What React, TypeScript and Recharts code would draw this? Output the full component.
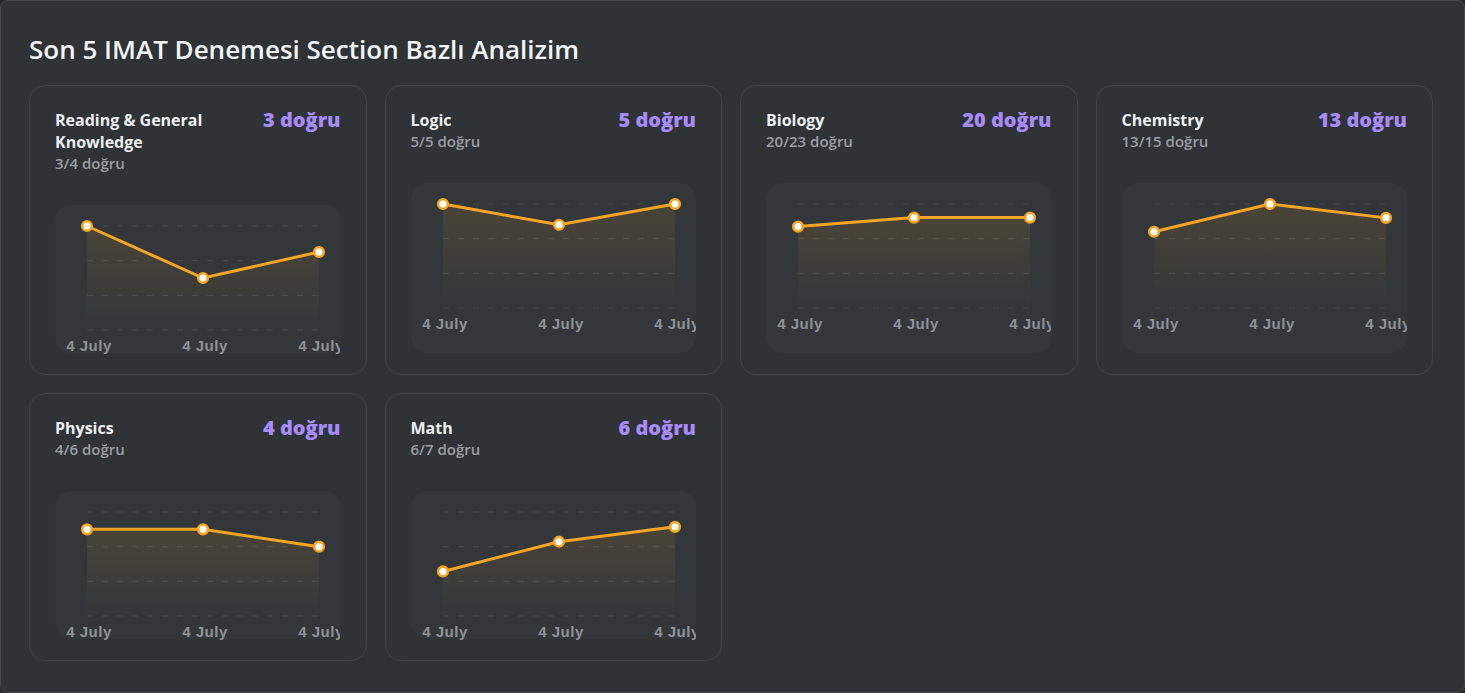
import React from 'react';
import { AreaChart, Area, XAxis, YAxis, CartesianGrid } from 'recharts';

const pageTitle = 'Son 5 IMAT Denemesi Section Bazlı Analizim';
const sectionNames = ['Reading & General Knowledge', 'Logic', 'Biology', 'Chemistry', 'Physics', 'Math'];
const sectionTotals = [4, 5, 23, 15, 6, 7];
const examDates = ['4 July', '4 July', '4 July'];
const readingScores = [4, 2, 3];
const logicScores = [5, 4, 5];
const biologyScores = [18, 20, 20];
const chemistryScores = [11, 15, 13];
const physicsScores = [5, 5, 4];
const mathScores = [3, 5, 6];
const sectionScores = [readingScores, logicScores, biologyScores, chemistryScores, physicsScores, mathScores];

const ORANGE = '#f5a524';
const UI_FONT = "'Open Sans', 'Noto Sans', sans-serif";
const TICK_FONT = "'Liberation Sans', Arial, sans-serif";

const renderDot = (p: any) => (
  <circle
    key={`dot-${p.index}`}
    cx={p.cx}
    cy={p.cy}
    r={4.8}
    fill="#ffffff"
    stroke={ORANGE}
    strokeWidth={2.6}
  />
);

const renderTick = (p: any) => (
  <text
    x={p.x}
    y={p.y}
    dx={2}
    dy="0.71em"
    textAnchor="middle"
    fill="#8f9398"
    style={{ fontFamily: TICK_FONT, fontSize: 15, fontWeight: 700, letterSpacing: 0.5 }}
  >
    {p.payload.value}
  </text>
);

function SectionCard({ index }: { index: number }) {
  const name = sectionNames[index];
  const total = sectionTotals[index];
  const scores = sectionScores[index];
  const latest = scores[scores.length - 1];
  const data = examDates.map((d, i) => ({ date: d, score: scores[i] }));
  const ticks = [0, total / 3, (2 * total) / 3, total];
  const gid = `fill-${index}`;
  return (
    <div
      style={{
        boxSizing: 'border-box',
        border: '1px solid #3f4347',
        borderRadius: 16,
        padding: '23px 25px 21px 25px',
        display: 'flex',
        flexDirection: 'column',
        background: '#2f3336',
      }}
    >
      <div style={{ display: 'flex', justifyContent: 'space-between', gap: 12 }}>
        <div style={{ flex: 1, minWidth: 0 }}>
          <div style={{ fontSize: 16, fontWeight: 700, lineHeight: '22px', color: '#eceef0' }}>{name}</div>
          <div style={{ fontSize: 15, fontWeight: 600, lineHeight: '20px', color: '#9a9ea3' }}>
            {latest}/{total} doğru
          </div>
        </div>
        <div style={{ fontSize: 20, fontWeight: 800, lineHeight: '22px', color: '#a78bfa', whiteSpace: 'nowrap' }}>
          {latest} doğru
        </div>
      </div>
      <div
        style={{
          marginTop: 32,
          flex: 1,
          background: '#33373a',
          borderRadius: 16,
          minHeight: 148,
        }}
      >
        <div style={{ height: 148, overflow: 'visible' }}>
          <AreaChart width={285} height={152} data={data} margin={{ top: 21, right: 21, left: 32, bottom: 0 }}>
            <defs>
              <linearGradient id={gid} x1="0" y1="0" x2="0" y2="1">
                <stop offset="0%" stopColor={ORANGE} stopOpacity={0.2} />
                <stop offset="100%" stopColor={ORANGE} stopOpacity={0} />
              </linearGradient>
            </defs>
            <CartesianGrid vertical={false} stroke="#474b50" strokeDasharray="6 9" />
            <XAxis
              dataKey="date"
              axisLine={false}
              tickLine={false}
              height={27}
              interval={0}
              tickMargin={4}
              tick={renderTick}
            />
            <YAxis hide domain={[0, total]} ticks={ticks} />
            <Area
              type="linear"
              dataKey="score"
              stroke={ORANGE}
              strokeWidth={3}
              fill={`url(#${gid})`}
              dot={renderDot}
              activeDot={false}
              isAnimationActive={false}
            />
          </AreaChart>
        </div>
      </div>
    </div>
  );
}

export default function App() {
  return (
    <>
      <style>{`body{margin:0;background:#26292c;}`}</style>
      <div
        style={{
          position: 'absolute',
          left: 0,
          top: 0,
          width: 1465,
          height: 693,
          boxSizing: 'border-box',
          background: '#2f3336',
          border: '1px solid #45494d',
          borderRadius: 8,
          fontFamily: UI_FONT,
          overflow: 'hidden',
        }}
      >
        <div
          style={{
            position: 'absolute',
            left: 28,
            top: 30,
            fontSize: 26,
            fontWeight: 600,
            color: '#f3f4f6',
            lineHeight: '36px',
            whiteSpace: 'nowrap',
          }}
        >
          {pageTitle}
        </div>
        <div
          style={{
            position: 'absolute',
            left: 28,
            top: 84,
            width: 1404,
            display: 'grid',
            gridTemplateColumns: 'repeat(4, 1fr)',
            columnGap: 18,
            rowGap: 18,
          }}
        >
          {sectionNames.map((_, i) => (
            <SectionCard key={i} index={i} />
          ))}
        </div>
      </div>
    </>
  );
}
